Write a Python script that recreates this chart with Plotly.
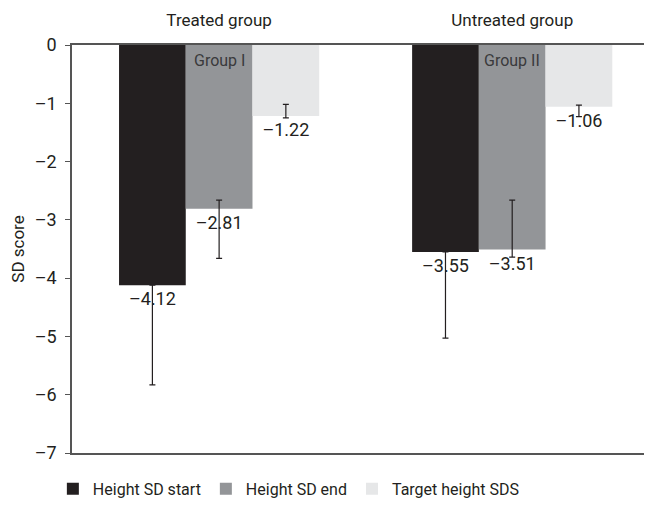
import plotly.graph_objects as go

# data
groups = ['Treated group', 'Untreated group']
series_names = ['Height SD start', 'Height SD end', 'Target height SDS']
height_sd_start = [-4.12, -3.55]
height_sd_end = [-2.81, -3.51]
target_height_sds = [-1.22, -1.06]

# error bars as drawn (upper / lower reach)
start_err_up = [0.0, 0.0]
start_err_down = [1.71, 1.48]
end_err_up = [0.15, 0.85]
end_err_down = [0.85, 0.13]
target_err_up = [0.2, 0.03]
target_err_down = [0.03, 0.17]

group_labels = ['Group I', 'Group II']
y_ticks = [0, -1, -2, -3, -4, -5, -6, -7]

colors = ['#231f20', '#939598', '#e6e7e8']
text_color = '#231f20'
font_family = 'Roboto, sans-serif'


def fmt(v):
    return ('%.2f' % v).replace('-', '\u2013')


fig = go.Figure()
all_values = [height_sd_start, height_sd_end, target_height_sds]
all_up = [start_err_up, end_err_up, target_err_up]
all_down = [start_err_down, end_err_down, target_err_down]

for name, vals, up, down, col in zip(series_names, all_values, all_up, all_down, colors):
    fig.add_trace(go.Bar(
        x=groups, y=vals, name=name,
        marker=dict(color=col, line=dict(width=0)),
        text=[fmt(v) for v in vals], textposition='outside',
        textfont=dict(size=18, color=text_color, family=font_family),
        cliponaxis=False,
        error_y=dict(type='data', symmetric=False, array=up, arrayminus=down,
                     color=text_color, thickness=1.2, width=3),
    ))

# group labels inside the middle bars
for g, lab in zip(groups, group_labels):
    fig.add_annotation(x=g, y=0, text=lab, showarrow=False, yanchor='top', yshift=-4,
                       font=dict(size=16, color='#3a3a3c', family=font_family))

# page body has an 8px margin, so the figure is sized to fit the 652x507 window
fig.update_layout(
    width=644, height=491,
    margin=dict(l=64, r=0, t=37, b=46, autoexpand=False),
    paper_bgcolor='white', plot_bgcolor='white',
    barmode='group', bargap=0.317, bargroupgap=0,
    font=dict(family=font_family, color=text_color, size=16),
    showlegend=True,
    legend=dict(orientation='h', x=-0.033, xanchor='left', y=-0.088, yanchor='middle',
                font=dict(size=16, color=text_color, family=font_family),
                traceorder='normal', bgcolor='rgba(0,0,0,0)'),
    xaxis=dict(side='top', showline=True, linecolor='#555555', linewidth=1.5, mirror=True,
               range=[-0.502, 1.477],
               ticks='', tickfont=dict(size=17, color=text_color), showgrid=False,
               ticklabelstandoff=10, automargin=False),
    yaxis=dict(range=[-7, 0], tickvals=y_ticks,
               ticktext=[str(t).replace('-', '\u2013') for t in y_ticks],
               showline=True, linecolor='#555555', linewidth=1.5, ticks='outside', ticklen=5,
               tickcolor='#555555', tickfont=dict(size=18, color=text_color),
               ticklabelstandoff=5,
               showgrid=False, zeroline=False, automargin=False,
               title=dict(text='SD score', font=dict(size=17, color=text_color), standoff=18)),
)

fig.write_html("out.html")
